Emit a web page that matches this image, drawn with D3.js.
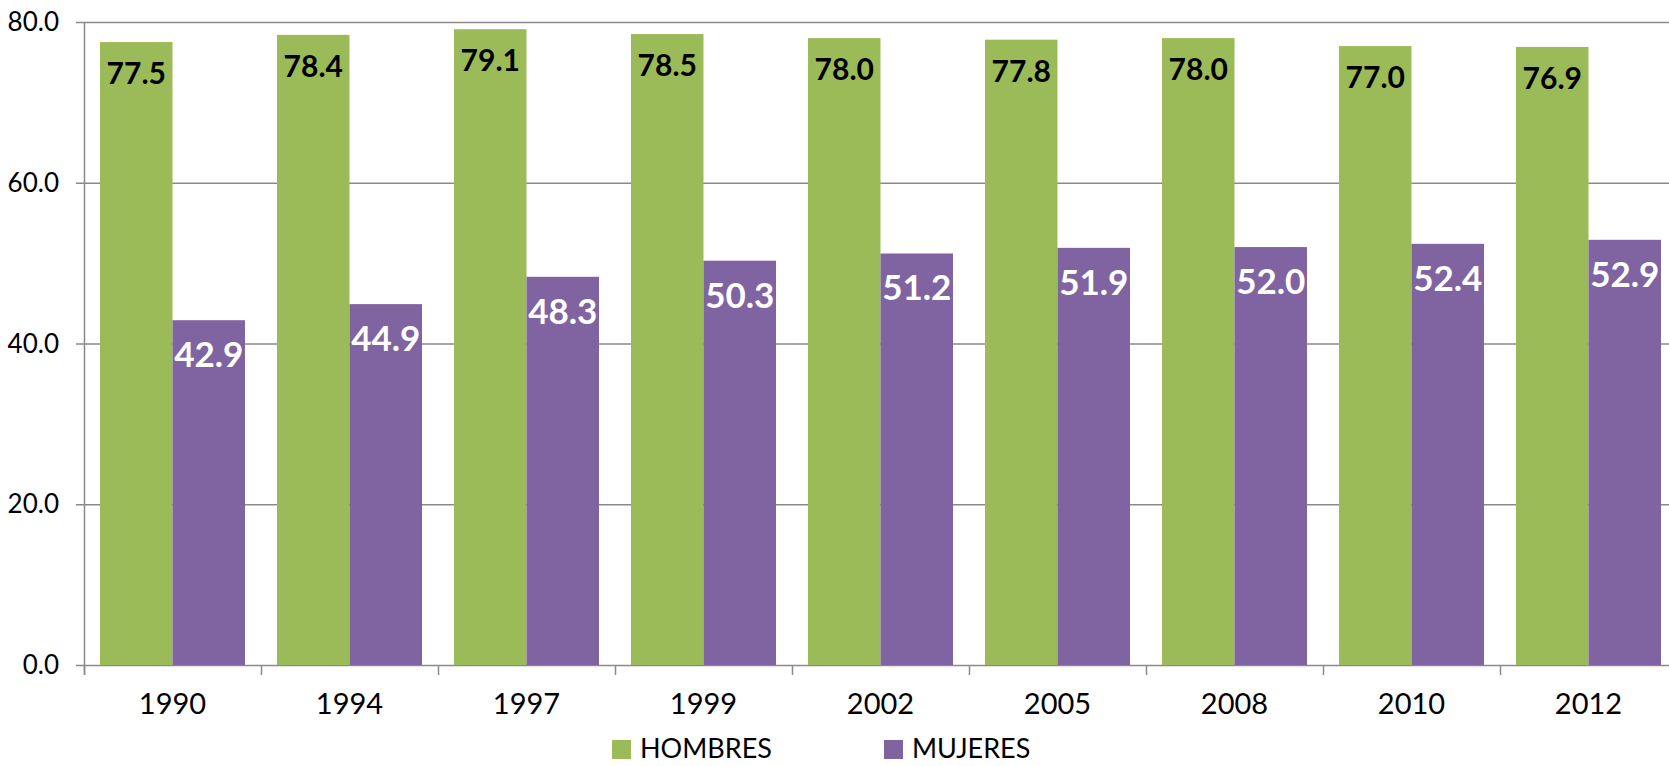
<!DOCTYPE html>
<html lang="es">
<head>
<meta charset="UTF-8">
<title>Hombres y Mujeres</title>
<script src="https://d3js.org/d3.v7.min.js"></script>
<style>
  body { margin: 0; background: #fff; }
  text { font-family: Lato, "Open Sans", sans-serif; }
</style>
</head>
<body>
<svg width="1669" height="766"></svg>
<script>
// data
const years = ["1990", "1994", "1997", "1999", "2002", "2005", "2008", "2010", "2012"];
const hombres = [77.5, 78.4, 79.1, 78.5, 78.0, 77.8, 78.0, 77.0, 76.9];
const mujeres = [42.9, 44.9, 48.3, 50.3, 51.2, 51.9, 52.0, 52.4, 52.9];
const seriesNames = ["HOMBRES", "MUJERES"];
const yTicks = [0, 20, 40, 60, 80];

const colors = { HOMBRES: "#9bbb59", MUJERES: "#8064a2" };
const labelColors = { HOMBRES: "#000", MUJERES: "#fff" };
const labelSize = { HOMBRES: "30px", MUJERES: "35px" };
const labelOffset = { HOMBRES: 42, MUJERES: 47 };

const svg = d3.select("svg");

const x0 = d3.scaleBand().domain(years).range([84, 1677]);
const x1 = d3.scaleBand().domain(seriesNames).range([16, x0.bandwidth() - 16]);
const y = d3.scaleLinear().domain([0, 80]).range([665, 22]);

// gridlines
svg.append("g")
    .selectAll("line")
    .data(yTicks)
    .join("line")
    .attr("x1", 76)
    .attr("x2", 1669)
    .attr("y1", d => y(d) + 0.5)
    .attr("y2", d => y(d) + 0.5)
    .attr("stroke", "#8a8a8a")
    .attr("stroke-width", 1.5);

// y tick labels
svg.append("g")
    .selectAll("text")
    .data(yTicks)
    .join("text")
    .attr("x", 59)
    .attr("y", d => y(d) + 9)
    .attr("text-anchor", "end")
    .attr("font-size", "26px")
    .attr("fill", "#000")
    .text(d => d.toFixed(1));

// bars
const rows = years.map((yr, i) => ({ year: yr, HOMBRES: hombres[i], MUJERES: mujeres[i] }));

const groups = svg.append("g")
    .selectAll("g")
    .data(rows)
    .join("g")
    .attr("transform", d => `translate(${x0(d.year)},0)`);

groups.selectAll("rect")
    .data(d => seriesNames.map(k => ({ key: k, value: d[k] })))
    .join("rect")
    .attr("x", d => x1(d.key))
    .attr("y", d => y(d.value))
    .attr("width", x1.bandwidth())
    .attr("height", d => y(0) - y(d.value))
    .attr("fill", d => colors[d.key]);

groups.selectAll("text")
    .data(d => seriesNames.map(k => ({ key: k, value: d[k] })))
    .join("text")
    .attr("x", d => x1(d.key) + x1.bandwidth() / 2)
    .attr("y", d => y(d.value) + labelOffset[d.key])
    .attr("text-anchor", "middle")
    .attr("font-size", d => labelSize[d.key])
    .attr("font-weight", "bold")
    .attr("fill", d => labelColors[d.key])
    .text(d => d.value.toFixed(1));

// y axis line
svg.append("line")
    .attr("x1", 84.5).attr("x2", 84.5)
    .attr("y1", 22).attr("y2", 675)
    .attr("stroke", "#8a8a8a")
    .attr("stroke-width", 1.5);

// x axis
svg.append("g")
    .attr("transform", "translate(0,665)")
    .call(d3.axisBottom(x0).tickSize(0).tickPadding(28))
    .call(g => g.select(".domain").remove())
    .call(g => g.selectAll("text")
        .attr("font-family", "Lato, 'Open Sans', sans-serif")
        .attr("font-size", "29px")
        .attr("fill", "#000"));

// category boundary ticks
svg.append("g")
    .selectAll("line")
    .data(years)
    .join("line")
    .attr("x1", d => x0(d) + 0.5)
    .attr("x2", d => x0(d) + 0.5)
    .attr("y1", 665)
    .attr("y2", 675)
    .attr("stroke", "#8a8a8a")
    .attr("stroke-width", 1.5);

// legend
const legendX = [612, 884];
const legend = svg.append("g")
    .selectAll("g")
    .data(seriesNames)
    .join("g")
    .attr("transform", (d, i) => `translate(${legendX[i]},740)`);

legend.append("rect")
    .attr("width", 19)
    .attr("height", 19)
    .attr("fill", d => colors[d]);

legend.append("text")
    .attr("x", 28)
    .attr("y", 18)
    .attr("font-size", "27px")
    .attr("fill", "#000")
    .text(d => d);
</script>
</body>
</html>
